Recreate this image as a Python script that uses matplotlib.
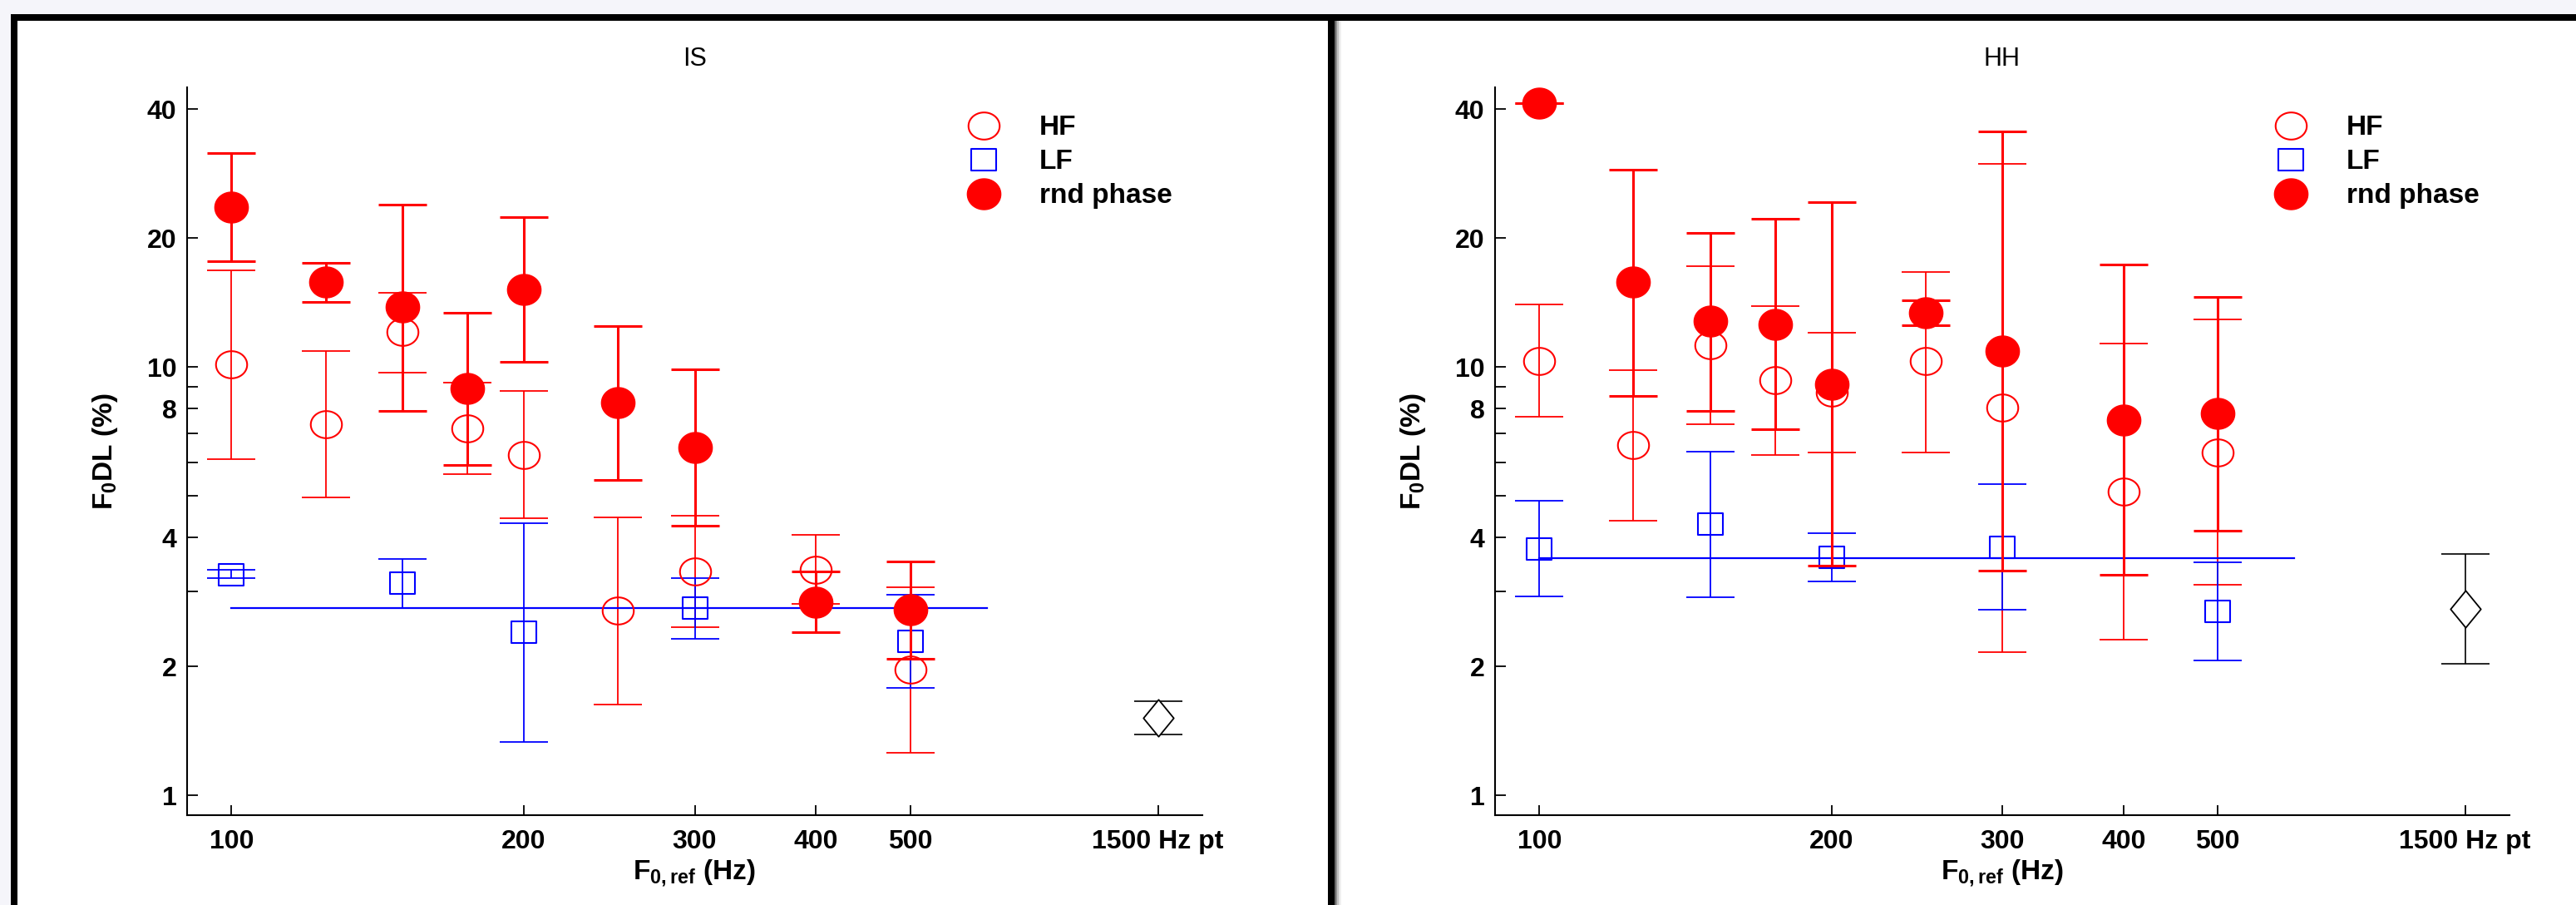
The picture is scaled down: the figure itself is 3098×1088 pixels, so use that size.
import numpy as np
import matplotlib
matplotlib.use("Agg")
import matplotlib.pyplot as plt
from matplotlib.path import Path
from matplotlib.lines import Line2D
from matplotlib.patches import Rectangle


# =====================================
# DATA (F0DL in %)
# =====================================

f0 = [100, 125, 150, 175, 200, 250, 300, 400, 500]
f0_lf = [100, 150, 200, 300, 500]
pt_x = 900          # where the "1500 Hz pt" column sits on the log axis
lf_line_x = [100, 600]

xtick_vals = [100, 200, 300, 400, 500, 900]
xtick_labels = ["100", "200", "300", "400", "500", "1500 Hz pt"]
ytick_major = [1, 2, 4, 8, 10, 20, 40]
ytick_minor = [3, 5, 6, 7, 9]

# --- IS ---
is_hf = [10.15, 7.36, 12.1, 7.2, 6.25, 2.7, 3.34, 3.36, 1.97]
is_hf_hi = [16.8, 10.9, 14.9, 9.2, 8.8, 4.47, 4.5, 4.06, 3.06]
is_hf_lo = [6.09, 4.97, 9.7, 5.63, 4.44, 1.63, 2.47, 2.8, 1.26]

is_rnd = [23.6, 15.8, 13.8, 8.9, 15.2, 8.26, 6.5, 2.83, 2.71]
is_rnd_hi = [31.6, 17.5, 24.0, 13.4, 22.4, 12.5, 9.9, 3.34, 3.52]
is_rnd_lo = [17.7, 14.2, 7.9, 5.9, 10.3, 5.45, 4.26, 2.41, 2.09]

is_lf = [3.28, 3.13, 2.41, 2.74, 2.29]
is_lf_hi = [3.36, 3.57, 4.32, 3.22, 2.94]
is_lf_lo = [3.22, 2.74, 1.335, 2.32, 1.78]
is_lf_mean = 2.74

is_pt = [1.52]
is_pt_hi = [1.66]
is_pt_lo = [1.39]

# --- HH ---
hh_hf = [10.35, 6.58, 11.27, 9.31, 8.74, 10.33, 8.03, 5.12, 6.33]
hh_hf_hi = [14.0, 9.85, 17.2, 13.9, 12.05, 16.7, 29.8, 11.35, 12.9]
hh_hf_lo = [7.67, 4.38, 7.36, 6.25, 6.31, 6.31, 2.16, 2.31, 3.11]

hh_rnd = [41.3, 15.8, 12.8, 12.6, 9.14, 13.4, 10.9, 7.53, 7.81]
hh_rnd_hi = [41.3, 28.9, 20.6, 22.2, 24.3, 14.3, 35.5, 17.4, 14.6]
hh_rnd_lo = [41.3, 8.55, 7.9, 7.18, 3.44, 12.55, 3.35, 3.27, 4.15]

hh_lf = [3.77, 4.3, 3.6, 3.8, 2.69]
hh_lf_hi = [4.87, 6.36, 4.1, 5.33, 3.5]
hh_lf_lo = [2.92, 2.9, 3.16, 2.72, 2.07]
hh_lf_mean = 3.59

hh_pt = [2.73]
hh_pt_hi = [3.67]
hh_pt_lo = [2.03]


# =====================================
# STYLE
# =====================================

plt.rcParams["font.family"] = ["Liberation Sans", "DejaVu Sans"]
plt.rcParams["mathtext.fontset"] = "custom"
plt.rcParams["mathtext.rm"] = "Liberation Sans:bold"
plt.rcParams["mathtext.default"] = "rm"

RED = "#ff0000"
BLUE = "#0000ff"
CAP = 21


def ellipse(ry):
    t = np.linspace(0, 2 * np.pi, 61)
    return Path(np.column_stack([np.cos(t), ry * np.sin(t)]), closed=True)


CIRCLE_OPEN = ellipse(0.87)
CIRCLE_FILL = ellipse(0.92)
SQUARE = Path([(-1, -0.88), (1, -0.88), (1, 0.88), (-1, 0.88), (-1, -0.88)], closed=True)
DIAMOND = Path([(0, 1), (0.82, 0), (0, -1), (-0.82, 0), (0, 1)], closed=True)


def err(y, lo, hi):
    y = np.array(y)
    return [y - np.array(lo), np.array(hi) - y]


def panel(ax, title, hf, hf_lo, hf_hi, rnd, rnd_lo, rnd_hi,
          lf, lf_lo, lf_hi, lf_mean, pt, pt_lo, pt_hi):

    # HF
    ax.errorbar(f0, hf, yerr=err(hf, hf_lo, hf_hi), fmt="none",
                ecolor=RED, elinewidth=1.3, capsize=CAP, capthick=1.3, zorder=2)
    ax.plot(f0, hf, ls="none", marker=CIRCLE_OPEN, ms=27,
            mfc="none", mec=RED, mew=1.5, zorder=3)

    # LF
    ax.plot(lf_line_x, [lf_mean, lf_mean], color=BLUE, lw=1.6, zorder=2)
    ax.errorbar(f0_lf, lf, yerr=err(lf, lf_lo, lf_hi), fmt="none",
                ecolor=BLUE, elinewidth=1.3, capsize=CAP, capthick=1.3, zorder=2)
    ax.plot(f0_lf, lf, ls="none", marker=SQUARE, ms=21,
            mfc="none", mec=BLUE, mew=1.5, zorder=3)

    # rnd phase
    ax.errorbar(f0, rnd, yerr=err(rnd, rnd_lo, rnd_hi), fmt="none",
                ecolor=RED, elinewidth=2.2, capsize=CAP, capthick=2.2, zorder=4)
    ax.plot(f0, rnd, ls="none", marker=CIRCLE_FILL, ms=29,
            mfc=RED, mec=RED, mew=1, zorder=5)

    # 1500 Hz pure tone
    ax.errorbar([pt_x], pt, yerr=err(pt, pt_lo, pt_hi), fmt="none",
                ecolor="black", elinewidth=1.2, capsize=CAP, capthick=1.2, zorder=2)
    ax.plot([pt_x], pt, ls="none", marker=DIAMOND, ms=32,
            mfc="white", mec="black", mew=1.3, zorder=3)

    ax.set_xscale("log")
    ax.set_yscale("log")
    ax.set_xlim(90, 1000)
    ax.set_ylim(0.9, 45)

    ax.set_xticks(xtick_vals)
    ax.set_xticklabels(xtick_labels)
    ax.xaxis.set_minor_locator(matplotlib.ticker.NullLocator())
    ax.set_yticks(ytick_major)
    ax.set_yticklabels([str(v) for v in ytick_major])
    ax.set_yticks(ytick_minor, minor=True)
    ax.yaxis.set_minor_formatter(matplotlib.ticker.NullFormatter())

    ax.tick_params(which="both", direction="in", length=9, width=1.3,
                   labelsize=23, pad=9)
    ax.tick_params(axis="x", pad=12)
    for lab in ax.get_xticklabels() + ax.get_yticklabels():
        lab.set_fontweight("bold")

    for s in ["top", "right"]:
        ax.spines[s].set_visible(False)
    for s in ["left", "bottom"]:
        ax.spines[s].set_linewidth(1.5)

    ax.set_title(title, fontsize=22, pad=19)
    ax.set_xlabel(r"F$_{0,ref}$ (Hz)", fontsize=24, fontweight="bold", labelpad=3)
    ax.set_ylabel(r"F$_0$DL (%)", fontsize=24, fontweight="bold", labelpad=24)

    handles = [
        Line2D([], [], ls="none", marker=CIRCLE_OPEN, ms=27, mfc="none", mec=RED, mew=1.5),
        Line2D([], [], ls="none", marker=SQUARE, ms=21, mfc="none", mec=BLUE, mew=1.5),
        Line2D([], [], ls="none", marker=CIRCLE_FILL, ms=29, mfc=RED, mec=RED),
    ]
    ax.legend(handles, ["HF", "LF", "rnd phase"], loc="upper left",
              bbox_to_anchor=(0.764, 0.962), frameon=False,
              prop={"size": 24, "weight": "bold"},
              handlelength=1.5, handletextpad=1.26, labelspacing=0.3,
              borderpad=0, borderaxespad=0, numpoints=1)


# =====================================
# FIGURE
# =====================================

W, H = 3098, 1088
fig = plt.figure(figsize=(W / 100, H / 100), dpi=100)
fig.patch.set_facecolor("#f5f5fa")


def px_rect(x0, y0, x1, y1, color):
    fig.add_artist(Rectangle((x0 / W, 1 - y1 / H), (x1 - x0) / W, (y1 - y0) / H,
                             transform=fig.transFigure, facecolor=color,
                             edgecolor="none", zorder=-10))


# white panels with the black frame of the screenshot
px_rect(13, 17, W, H, "white")
px_rect(13, 17, W, 25, "black")
px_rect(13, 17, 21, H, "black")
px_rect(1597, 17, 1605, H, "black")
for i, g in enumerate(["#6a6a6a", "#9a9a9a", "#c0c0c0", "#dedede", "#f0f0f0"]):
    px_rect(1605 + i * 1.6, 25, 1605 + (i + 1) * 1.6, H, g)

ax1 = fig.add_axes([225 / W, 1 - 980 / H, 1221 / W, 875 / H])
ax2 = fig.add_axes([1798 / W, 1 - 980 / H, 1220 / W, 875 / H])
ax1.patch.set_alpha(0)
ax2.patch.set_alpha(0)

panel(ax1, "IS", is_hf, is_hf_lo, is_hf_hi, is_rnd, is_rnd_lo, is_rnd_hi,
      is_lf, is_lf_lo, is_lf_hi, is_lf_mean, is_pt, is_pt_lo, is_pt_hi)
panel(ax2, "HH", hh_hf, hh_hf_lo, hh_hf_hi, hh_rnd, hh_rnd_lo, hh_rnd_hi,
      hh_lf, hh_lf_lo, hh_lf_hi, hh_lf_mean, hh_pt, hh_pt_lo, hh_pt_hi)

fig.savefig("out.png", dpi=100, facecolor=fig.get_facecolor())
